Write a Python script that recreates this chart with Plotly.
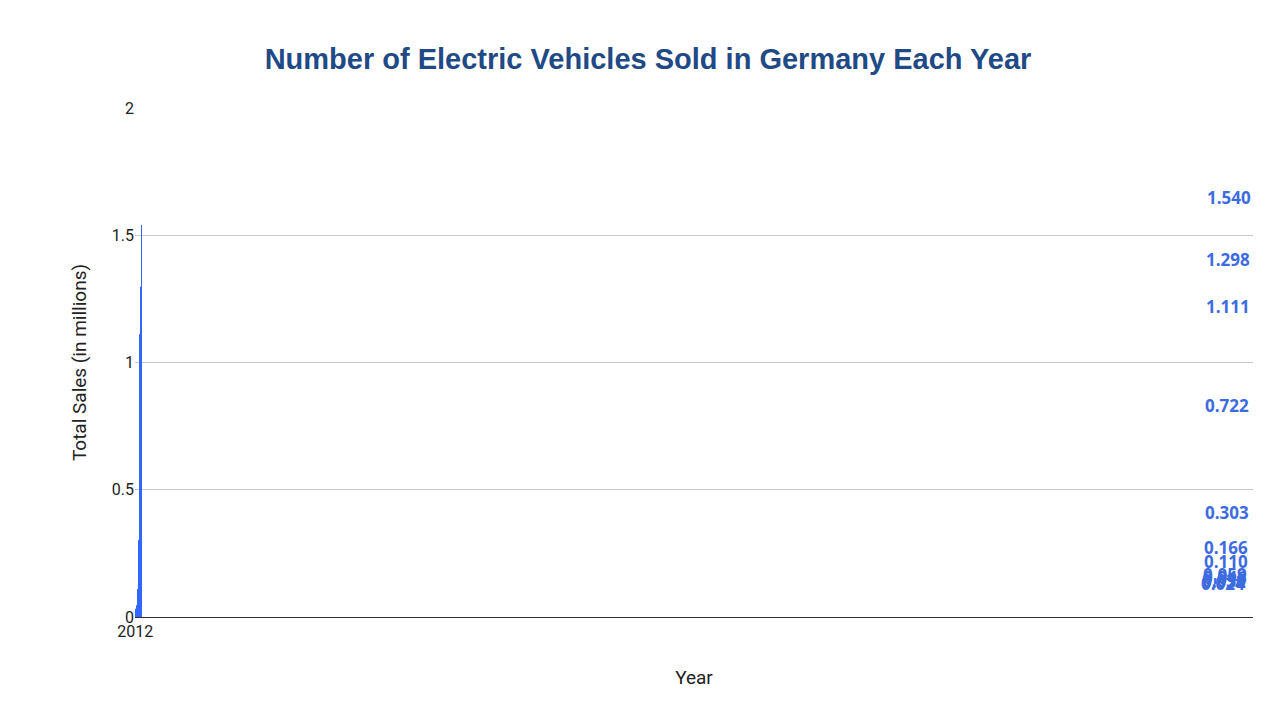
import plotly.graph_objects as go

years = ["2012","2013","2014","2015","2016","2017","2018","2019","2020","2021","2022","2023"]
sales = [0.024,0.032,0.036,0.046,0.059,0.110,0.166,0.303,0.722,1.111,1.298,1.540]
labels = ["0.024","0.032","0.036","0.046","0.059","0.110","0.166","0.303","0.722","1.111","1.298","1.540"]
yticks = [0, 0.5, 1, 1.5, 2]
yticktext = ["0", "0.5", "1", "1.5", "2"]

fig = go.Figure(go.Bar(x=years, y=sales, marker_color="#3366ff", marker_line_width=0))
for x, y, t in zip(years, sales, labels):
    fig.add_annotation(x=x, y=y, text=t, showarrow=False, yanchor="bottom", yshift=14,
                       font=dict(family="Open Sans", size=17, color="#3d6be0", weight="bold"))

fig.update_layout(
    width=1280, height=720, paper_bgcolor="white", plot_bgcolor="white",
    margin=dict(l=127, r=35, t=100, b=111),
    bargap=0.37, showlegend=False,
    font=dict(family="Roboto", size=16, color="#222"),
    title=dict(text="<b>Number of Electric Vehicles Sold in Germany Each Year</b>", x=0.5, xanchor="center",
               y=0.93, yanchor="middle", font=dict(family="Liberation Sans", size=29, color="#1f4a85")),
    xaxis=dict(type="category", title=dict(text="Year", standoff=30), showline=True, linecolor="#333",
               linewidth=1, ticks=""),
    yaxis=dict(title=dict(text="Total Sales (in millions)", standoff=20), range=[0, 2],
               tickvals=yticks, ticktext=yticktext, gridcolor="#c8c8c8", zeroline=False),
)
fig.write_html("out.html")
